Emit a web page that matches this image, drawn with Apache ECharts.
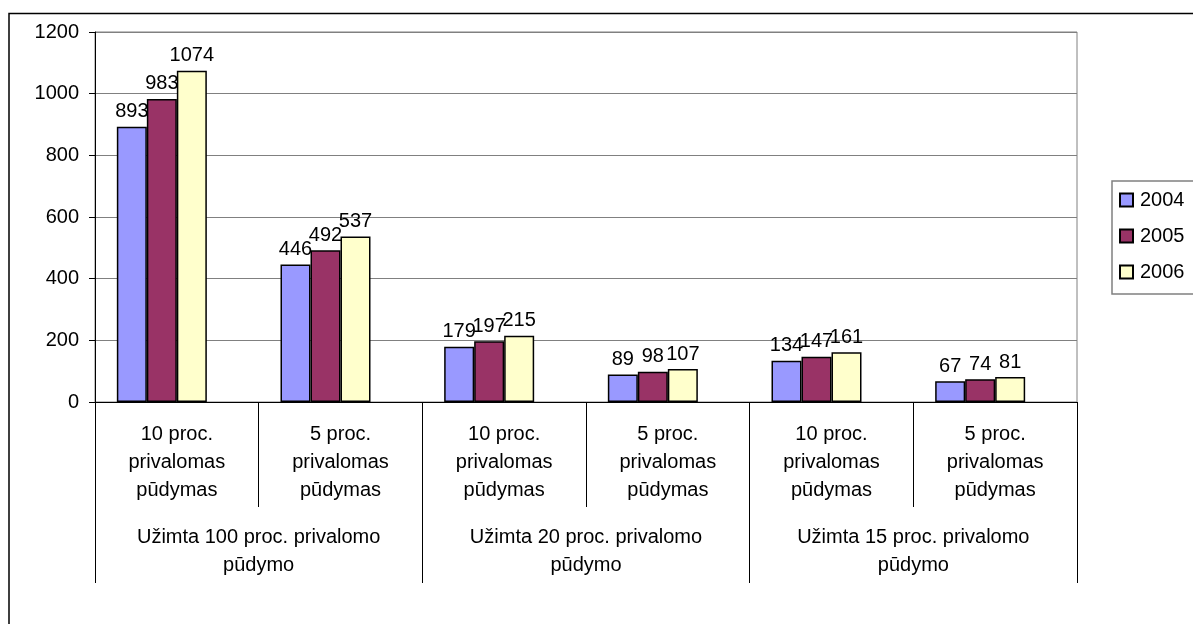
<!DOCTYPE html>
<html>
<head>
<meta charset="utf-8">
<style>
html,body{margin:0;padding:0;background:#fff;}
#chart{width:1193px;height:624px;}
</style>
<script src="https://cdn.jsdelivr.net/npm/echarts@6/dist/echarts.min.js"></script>
</head>
<body>
<div id="chart"></div>
<script>
var subCategories = [
  '10 proc.\nprivalomas\npūdymas', '5 proc.\nprivalomas\npūdymas',
  '10 proc.\nprivalomas\npūdymas', '5 proc.\nprivalomas\npūdymas',
  '10 proc.\nprivalomas\npūdymas', '5 proc.\nprivalomas\npūdymas'
];
var groupCategories = [
  'Užimta 100 proc. privalomo\npūdymo',
  'Užimta 20 proc. privalomo\npūdymo',
  'Užimta 15 proc. privalomo\npūdymo'
];
var seriesNames = ['2004', '2005', '2006'];
var values2004 = [893, 446, 179, 89, 134, 67];
var values2005 = [983, 492, 197, 98, 147, 74];
var values2006 = [1074, 537, 215, 107, 161, 81];
var yTicks = {min: 0, max: 1200, interval: 200};

var FONT = "'Liberation Sans', Arial, sans-serif";
var FS = 20;
var colors = ['#9999FF', '#993366', '#FFFFCC'];
var allValues = [values2004, values2005, values2006];

var chart = echarts.init(document.getElementById('chart'), null, {renderer: 'canvas'});

var series = seriesNames.map(function (name, i) {
  return {
    name: name,
    type: 'bar',
    xAxisIndex: 0,
    yAxisIndex: 0,
    data: allValues[i],
    barWidth: 30,
    barGap: '0%',
    itemStyle: {color: colors[i], borderColor: '#000', borderWidth: 1.5},
    label: {
      show: true,
      position: 'top',
      distance: 5,
      color: '#000',
      fontFamily: FONT,
      fontSize: FS
    },
    emphasis: {disabled: true}
  };
});

var option = {
  backgroundColor: '#fff',
  animation: false,
  textStyle: {fontFamily: FONT},
  graphic: [{
    type: 'rect',
    shape: {x: 9, y: 13.5, width: 1300, height: 700},
    style: {fill: 'none', stroke: '#000', lineWidth: 1.5},
    silent: true,
    z: -10
  }],
  legend: {
    orient: 'vertical',
    left: 1112,
    top: 181,
    data: seriesNames,
    icon: 'rect',
    itemWidth: 13,
    itemHeight: 13,
    itemGap: 16,
    padding: [9, 60, 12, 7],
    borderColor: '#808080',
    borderWidth: 1.5,
    textStyle: {color: '#000', fontSize: FS, fontFamily: FONT, padding: [0, 0, 0, 2]},
    selectedMode: false
  },
  grid: [
    {left: 80, right: 131, top: 32, bottom: 222, containLabel: false},
    {left: 95, right: 116, top: 32, bottom: 222, containLabel: false,
     show: true, borderColor: '#808080', borderWidth: 1, backgroundColor: 'transparent'}
  ],
  xAxis: [
    {
      type: 'category', gridIndex: 0, data: subCategories,
      show: false
    },
    {
      type: 'category', gridIndex: 1, data: subCategories, position: 'bottom',
      axisLine: {show: true, lineStyle: {color: '#000', width: 1}},
      axisTick: {show: true, interval: 0, length: 105, lineStyle: {color: '#000', width: 1}},
      axisLabel: {interval: 0, margin: 18, color: '#000', fontSize: FS, lineHeight: 28, fontFamily: FONT, align: 'center'},
      splitLine: {show: false}
    },
    {
      type: 'category', gridIndex: 1, data: groupCategories, position: 'bottom',
      axisLine: {show: false},
      axisTick: {show: true, interval: 0, length: 181, lineStyle: {color: '#000', width: 1}},
      axisLabel: {interval: 0, margin: 121, color: '#000', fontSize: FS, lineHeight: 28, fontFamily: FONT, align: 'center'},
      splitLine: {show: false}
    }
  ],
  yAxis: [
    {
      type: 'value', gridIndex: 0, min: yTicks.min, max: yTicks.max, interval: yTicks.interval,
      show: false, splitLine: {show: false}
    },
    {
      type: 'value', gridIndex: 1, min: yTicks.min, max: yTicks.max, interval: yTicks.interval,
      axisLine: {show: true, lineStyle: {color: '#000', width: 1}},
      axisTick: {show: true, length: 6, lineStyle: {color: '#000'}},
      axisLabel: {margin: 16, color: '#000', fontSize: FS, fontFamily: FONT,
        formatter: function (v) { return String(v); }},
      splitLine: {show: true, lineStyle: {color: '#808080', width: 1}}
    }
  ],
  series: series
};

chart.setOption(option);
</script>
</body>
</html>
